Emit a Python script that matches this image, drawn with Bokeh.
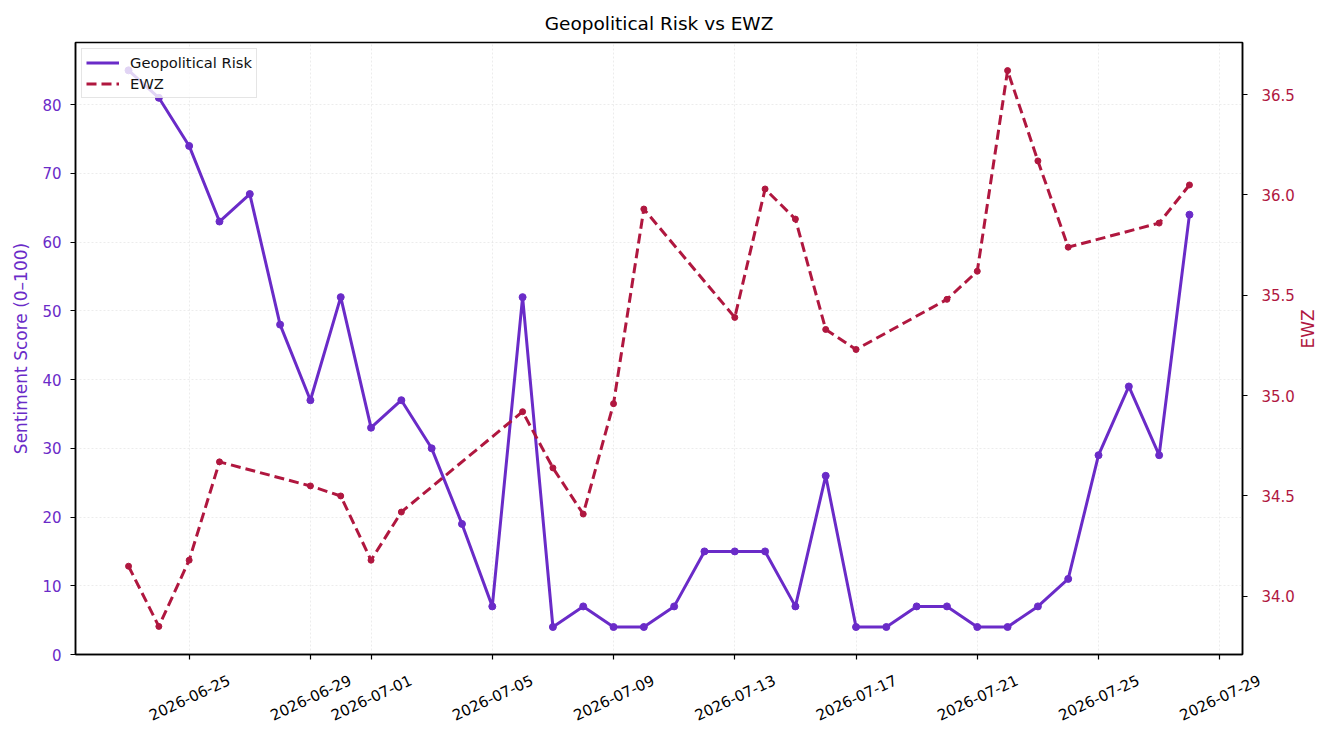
import math
import pandas as pd
from bokeh.plotting import figure
from bokeh.layouts import column
from bokeh.models import (ColumnDataSource, Range1d, LinearAxis, DatetimeAxis, FixedTicker,
                          DatetimeTickFormatter, NumeralTickFormatter, Legend, LegendItem)
from bokeh.embed import file_html
from bokeh.resources import INLINE

# ---------------- data ----------------
gpr_dates = ["2026-06-23", "2026-06-24", "2026-06-25", "2026-06-26", "2026-06-27", "2026-06-28",
             "2026-06-29", "2026-06-30", "2026-07-01", "2026-07-02", "2026-07-03", "2026-07-04",
             "2026-07-05", "2026-07-06", "2026-07-07", "2026-07-08", "2026-07-09", "2026-07-10",
             "2026-07-11", "2026-07-12", "2026-07-13", "2026-07-14", "2026-07-15", "2026-07-16",
             "2026-07-17", "2026-07-18", "2026-07-19", "2026-07-20", "2026-07-21", "2026-07-22",
             "2026-07-23", "2026-07-24", "2026-07-25", "2026-07-26", "2026-07-27", "2026-07-28"]
gpr_values = [85, 81, 74, 63, 67, 48, 37, 52, 33, 37, 30, 19, 7, 52, 4, 7, 4, 4,
              7, 15, 15, 15, 7, 26, 4, 4, 7, 7, 4, 4, 7, 11, 29, 39, 29, 64]

ewz_dates = ["2026-06-23", "2026-06-24", "2026-06-25", "2026-06-26", "2026-06-29", "2026-06-30",
             "2026-07-01", "2026-07-02", "2026-07-06", "2026-07-07", "2026-07-08", "2026-07-09",
             "2026-07-10", "2026-07-13", "2026-07-14", "2026-07-15", "2026-07-16", "2026-07-17",
             "2026-07-20", "2026-07-21", "2026-07-22", "2026-07-23", "2026-07-24", "2026-07-27",
             "2026-07-28"]
ewz_values = [34.15, 33.85, 34.18, 34.67, 34.55, 34.50, 34.18, 34.42, 34.92, 34.64, 34.41, 34.96,
              35.93, 35.39, 36.03, 35.88, 35.33, 35.23, 35.48, 35.62, 36.62, 36.17, 35.74, 35.86,
              36.05]

x_tick_labels = ["2026-06-25", "2026-06-29", "2026-07-01", "2026-07-05", "2026-07-09",
                 "2026-07-13", "2026-07-17", "2026-07-21", "2026-07-25", "2026-07-29"]
left_ticks = [0, 10, 20, 30, 40, 50, 60, 70, 80]
right_ticks = [34.0, 34.5, 35.0, 35.5, 36.0, 36.5]

title_text = "Geopolitical Risk vs EWZ"
left_label = "Sentiment Score (0\u2013100)"
right_label = "EWZ"
gpr_name = "Geopolitical Risk"
ewz_name = "EWZ"

# ---------------- layout / styling ----------------
PURPLE = "#6a2bc8"
CRIMSON = "#b0173f"
FONT = "DejaVu Sans"
Y_MAX = 89.05

W = 1330
LEFT, RIGHT, TOP, FRAME_H, BOTTOM = 75, 86, 42, 612, 10
LABEL_ANCHOR = 711            # page y of rotated-label anchors (label centre ~18px higher)
LABEL_SHIFT_PX = 39.5         # half label length projected on x (15px DejaVu, 25 deg)

gsrc = ColumnDataSource(dict(x=pd.to_datetime(gpr_dates), y=gpr_values))
esrc = ColumnDataSource(dict(x=pd.to_datetime(ewz_dates), y=ewz_values))

x0 = pd.Timestamp("2026-06-21 06:00")
x1 = pd.Timestamp("2026-07-29 18:00")

P_H = TOP + FRAME_H + BOTTOM
p = figure(width=W, height=P_H, x_axis_type="datetime",
           x_range=Range1d(x0, x1), y_range=Range1d(0, Y_MAX),
           output_backend="svg", toolbar_location=None,
           min_border_left=LEFT, min_border_right=RIGHT, min_border_top=TOP,
           min_border_bottom=BOTTOM)
p.extra_y_ranges = {"ewz": Range1d(33.71, 36.76)}

p.title.text = title_text
p.title.align = "center"
p.title.text_font = FONT
p.title.text_font_size = "18.5px"
p.title.text_font_style = "normal"
p.title.text_color = "#000000"
p.title.standoff = 17

p.outline_line_color = "#000000"
p.outline_line_width = 1.5
p.outline_line_alpha = 1.0

# x axis: tick marks only (the date labels are set centred under the ticks below)
xt = [pd.Timestamp(t).value / 1e6 for t in x_tick_labels]
p.xaxis.ticker = FixedTicker(ticks=xt, minor_ticks=[])
p.xaxis.formatter = DatetimeTickFormatter(days="%Y-%m-%d", months="%Y-%m-%d", hours="%Y-%m-%d")
p.xaxis.major_label_overrides = {t: "" for t in xt}

# left axis
p.yaxis.ticker = FixedTicker(ticks=left_ticks, minor_ticks=[])
p.yaxis.axis_label = left_label
p.yaxis.axis_label_text_color = PURPLE
p.yaxis.major_label_text_color = PURPLE

# right axis
ax2 = LinearAxis(y_range_name="ewz", axis_label=right_label)
ax2.ticker = FixedTicker(ticks=right_ticks, minor_ticks=[])
ax2.formatter = NumeralTickFormatter(format="0.0")
ax2.axis_label_text_color = CRIMSON
ax2.major_label_text_color = CRIMSON
if "axis_label_orientation" in ax2.properties():
    ax2.axis_label_orientation = math.pi / 2
p.add_layout(ax2, "right")

for ax in [p.xaxis[0], p.yaxis[0], ax2]:
    ax.axis_line_color = "#000000"
    ax.axis_line_width = 1.5
    ax.major_tick_line_color = "#000000"
    ax.major_tick_line_width = 1.2
    ax.major_tick_out = 5
    ax.major_tick_in = 0
    ax.minor_tick_line_color = None
    ax.major_label_text_font = FONT
    ax.major_label_text_font_size = "15px"
    ax.axis_label_text_font = FONT
    ax.axis_label_text_font_size = "17px"
    ax.axis_label_text_font_style = "normal"
    ax.major_label_standoff = 9
    ax.axis_label_standoff = 8
ax2.major_label_standoff = 14
ax2.axis_label_standoff = 10
p.xaxis.major_label_standoff = 0
p.xaxis.major_label_text_font_size = "0px"

for g in [p.xgrid[0], p.ygrid[0]]:
    g.grid_line_color = "#d8d8d8"
    g.grid_line_dash = "2 2"
    g.grid_line_alpha = 0.6
    g.grid_line_width = 0.8

# glyphs
l1 = p.line("x", "y", source=gsrc, line_color=PURPLE, line_width=3)
p.scatter("x", "y", source=gsrc, size=7, fill_color=PURPLE, line_color=PURPLE)
l2 = p.line("x", "y", source=esrc, y_range_name="ewz", line_color=CRIMSON, line_width=3,
            line_dash="10 5")
p.scatter("x", "y", source=esrc, y_range_name="ewz", size=6, fill_color=CRIMSON, line_color=CRIMSON)

legend = Legend(items=[LegendItem(label=gpr_name, renderers=[l1]),
                       LegendItem(label=ewz_name, renderers=[l2])],
                location="top_left")
legend.margin = 6
legend.padding = 4
legend.spacing = 2
legend.label_text_font = FONT
legend.label_text_font_size = "14.7px"
legend.label_text_color = "#111111"
legend.label_standoff = 11
legend.glyph_width = 33
legend.glyph_height = 19
legend.label_height = 19
legend.border_line_color = "#cccccc"
legend.border_line_width = 1
legend.background_fill_alpha = 0.8
p.add_layout(legend)

# ---------------- strip carrying the rotated date labels (centred on the ticks) ----------------
frame_w = W - LEFT - RIGHT
shift = (x1 - x0) / frame_w * LABEL_SHIFT_PX
top_b = LABEL_ANCHOR - P_H
q = figure(width=W, height=top_b + 19, title=None,
           x_range=p.x_range, y_range=Range1d(0, 1),
           output_backend="svg", toolbar_location=None,
           x_axis_location=None, y_axis_location=None, min_border=0)
q.min_border_left = LEFT
q.min_border_right = RIGHT
q.min_border_top = top_b
q.min_border_bottom = 0
q.outline_line_color = None
q.grid.visible = False
q.extra_x_ranges = {"lab": Range1d(x0 + shift, x1 + shift)}
lab_axis = DatetimeAxis(x_range_name="lab")
lab_axis.ticker = FixedTicker(ticks=xt, minor_ticks=[])
lab_axis.formatter = DatetimeTickFormatter(days="%Y-%m-%d", months="%Y-%m-%d", hours="%Y-%m-%d")
lab_axis.major_label_orientation = math.radians(25)
lab_axis.major_label_standoff = 0
lab_axis.major_tick_out = 0
lab_axis.major_tick_in = 0
lab_axis.major_tick_line_color = None
lab_axis.minor_tick_line_color = None
lab_axis.axis_line_color = None
lab_axis.major_label_text_font = FONT
lab_axis.major_label_text_font_size = "15px"
lab_axis.major_label_text_color = "#000000"
q.add_layout(lab_axis, "above")

layout = column(p, q, spacing=0)
open("out.html", "w").write(file_html(layout, INLINE))
